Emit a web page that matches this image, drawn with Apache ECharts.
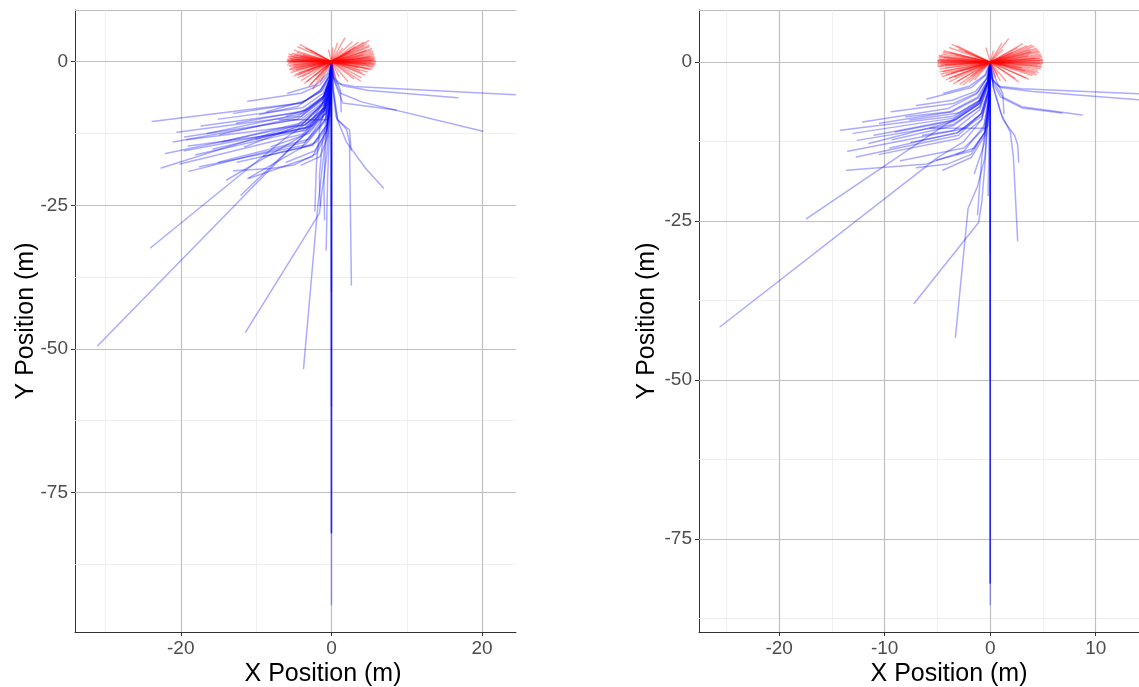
<!DOCTYPE html>
<html><head><meta charset="utf-8">
<script src="https://cdn.jsdelivr.net/npm/echarts@6/dist/echarts.min.js"></script>
<style>html,body{margin:0;padding:0;background:#fff}#c{width:1139px;height:687px}</style>
</head><body><div id="c"></div>
<script>
// ---------- axis ticks ----------
const leftXTicks = [-20, 0, 20];
const leftXMinor = [-30, -10, 10];
const rightXTicks = [-20, -10, 0, 10];
const rightXMinor = [-25, -15, -5, 5];
const yTicks = [0, -25, -50, -75];
const yMinor = [-12.5, -37.5, -62.5, -87.5];
const leftXRange = [-34.04, 24.5];
const leftYRange = [-99.3, 9.0];
const rightXRange = [-27.6, 14.1];
const rightYRange = [-89.6, 8.2];

// ---------- red (initial direction) segment end points ----------
const leftRedEnds = [
 [-5.8,0.2],[-5.8,-0.3],[-5.7,0.6],[-5.6,-0.8],[-5.5,1.0],[-5.5,-1.2],[-5.4,0.0],[-5.3,1.5],[-5.2,-1.6],[-5.0,2.0],
 [-5.0,-0.5],[-4.8,-2.2],[-4.7,0.4],[-4.5,2.6],[-4.5,-2.8],[-4.2,3.0],[-4.0,-3.3],[-3.8,1.2],[-3.6,-3.8],[-3.5,2.4],
 [-3.2,-1.5],[-3.0,-4.3],[-2.8,2.0],[-2.5,-4.8],[-2.2,-2.5],[-5.1,0.8],[-4.9,-1.0],[-4.3,-1.9],[-3.9,-2.6],[-2.0,-3.2],
 [-1.5,-3.6],[-6.0,0.0],[-5.9,0.4],[-4.6,1.6],[-4.1,0.9],[-5.7,-0.1],[-5.3,0.3],
 [-5.9,-0.6],[-5.8,0.9],[-5.6,-1.4],[-5.7,1.3],[-5.4,-1.9],[-5.5,0.5],[-5.6,0.1],[-5.2,-0.9],[-4.9,1.2],[-4.4,-2.3],
 [-4.7,-1.4],[-3.3,-3.5],[-2.8,-4.0],[-5.9,0.1],[-5.0,-2.5],
 [5.8,0.0],[5.8,0.5],[5.7,-0.4],[5.6,1.0],[5.5,-0.9],[5.5,1.5],[5.4,0.2],[5.3,2.0],[5.2,-1.4],[5.0,2.6],
 [5.0,3.7],[4.8,-1.8],[4.7,3.2],[4.5,-2.4],[4.4,2.8],[4.2,1.2],[4.0,-2.8],[3.9,-3.4],[3.6,3.4],[3.5,-1.0],
 [3.2,2.6],[3.0,-3.0],[2.8,3.5],[2.5,1.8],[2.2,-3.5],[1.8,4.2],[1.5,2.4],[0.8,3.3],[0.5,-3.0],[-0.4,2.1],
 [0.2,2.5],[5.1,-0.6],[4.9,0.7],[4.6,1.9],[3.8,-1.6],[1.0,-2.6],[5.9,0.2],[5.6,0.3],[5.2,0.9],
 [5.9,-0.2],[5.8,0.8],[5.7,-0.8],[5.7,1.3],[5.5,-1.3],[5.6,1.8],[5.4,2.3],[5.3,-0.2],[5.1,2.9],[4.9,-1.2],
 [4.6,-0.3],[4.3,3.4],[5.6,0.6],[5.8,-0.5],[4.1,-2.0]
];
const rightRedEnds = [
 [-5.0,0.1],[-5.0,-0.3],[-4.9,0.5],[-4.9,-0.7],[-4.8,0.9],[-4.8,-1.1],[-4.7,0.0],[-4.6,1.3],[-4.5,-1.5],[-4.4,1.8],
 [-4.3,-0.4],[-4.2,-2.0],[-4.1,0.4],[-3.9,2.3],[-3.9,-2.5],[-3.65,2.8],[-3.5,-3.4],[-3.3,1.1],[-3.1,-3.0],[-3.0,2.1],
 [-2.8,-1.4],[-2.6,-3.6],[-2.4,1.7],[-2.0,-3.2],[-1.8,-2.2],[-4.4,0.7],[-4.3,-0.9],[-3.7,-1.7],[-3.4,-2.4],[-1.5,-2.8],
 [-5.0,0.3],[-4.6,0.2],[-3.8,1.5],[-0.4,2.3],[-4.95,-0.1],
 [-5.0,-0.6],[-4.9,0.8],[-4.8,-1.5],[-4.9,1.1],[-4.7,-1.9],[-4.8,0.4],[-4.7,-0.4],[-4.5,1.6],[-4.6,-2.3],[-4.2,-2.8],
 [-3.9,-3.1],[-3.2,2.6],[-4.95,0.2],[-2.9,-3.5],
 [5.0,0.0],[5.0,0.4],[4.9,-0.4],[4.9,0.9],[4.8,-0.8],[4.8,1.3],[4.7,0.2],[4.6,1.8],[4.5,-1.3],[4.4,2.2],
 [4.0,2.7],[4.3,-1.7],[4.2,2.5],[4.0,-2.1],[3.8,2.0],[3.6,1.0],[3.4,-2.5],[2.7,-3.1],[3.1,2.9],[3.0,-0.9],
 [2.6,2.3],[2.4,-2.6],[1.75,3.7],[2.1,1.5],[1.5,-3.0],[1.1,3.0],[1.2,2.0],[0.95,-2.95],[0.5,-2.5],[0.3,1.8],
 [4.5,-0.5],[4.3,0.6],[3.9,1.6],[3.3,-1.4],[0.7,-2.0],[5.0,0.2],[4.7,0.6],
 [5.0,-0.2],[4.95,0.7],[4.9,-0.7],[4.85,1.1],[4.8,-1.1],[4.7,1.6],[4.6,-1.6],[4.5,2.0],[4.7,-0.2],[4.4,-2.0],
 [3.7,-2.7],[4.95,0.3],[3.5,2.6]
];

// ---------- blue trajectories ----------
const leftBlueTracks = [
 [[0,0],[0,-94.5]],
 [[0,0],[0,-82]],
 [[0,0],[0,-82]],
 [[0,0],[0,-82]],
 [[0,0],[0,-60]],
 [[0,0],[0,-40]],
 [[0,0],[0,-25]],
 [[0,0],[-0.1,-4],[-0.8,-8],[-2.5,-11.5],[-5,-14.5],[-31,-49.4]],
 [[0,0],[-0.1,-3],[-0.8,-6.5],[-2.5,-10],[-6,-13.2],[-24,-32.4]],
 [[0,0],[-0.2,-8],[-0.6,-16],[-1.2,-22],[-1.6,-26.4],[-11.4,-47.1]],
 [[0,0],[-0.3,-8],[-1,-16],[-1.8,-25],[-3.7,-53.4]],
 [[0,0],[-0.2,-10],[-0.5,-20],[-0.7,-32.8]],
 [[0,0],[-0.4,-8],[-1.2,-14],[-1.6,-20],[-1.5,-25]],
 [[0,0],[-0.3,-8],[-0.8,-15],[-1.0,-22],[-0.9,-27.5]],
 [[0,0],[-0.5,-6],[-1.5,-11],[-2.0,-18],[-2.2,-26]],
 [[0,0],[-0.2,-4],[-1,-8],[-3,-12],[-12,-23.2]],
 [[0,0],[-0.2,-4],[-1.2,-8.5],[-4,-13],[-13.9,-20.6]],
 [[0,0],[-0.2,-5],[-1.2,-10],[-4,-15],[-11.1,-20.3]],
 [[0,0],[0.1,-2.5],[0.8,-3.8],[3,-4.3],[24.4,-5.75]],
 [[0,0],[0.3,-2.8],[1.5,-4.2],[5,-5.0],[16.8,-6.26]],
 [[0,0],[0.3,-3],[1.2,-5.5],[4,-7],[20.1,-12.1]],
 [[0,0],[0.4,-3.5],[1.5,-7.2],[8.6,-8.4]],
 [[0,0],[0.6,-3],[1.2,-5],[1.3,-8.7]],
 [[0,0],[0.2,-5],[0.8,-10],[2,-11.8],[2.4,-14],[2.65,-38.9]],
 [[0,0],[0.2,-5],[0.6,-9.5],[2,-14],[4.5,-18.5],[6.9,-22]],
 [[0,0],[0.3,-5],[0.8,-10.1],[2.4,-11.9],[2.6,-15.4]],
 [[0,0],[-0.2,-2.5],[-1.2,-5],[-4,-7.2],[-23.8,-10.4]],
 [[0,0],[-0.3,-2],[-1.5,-4],[-4,-5.5],[-11.1,-6.9]],
 [[0,0],[-0.5,-2],[-2,-4],[-5.8,-5.5]],
 [[0,0],[-0.2,-3],[-1,-6],[-4,-8.8],[-17.3,-11.2]],
 [[0,0],[-0.2,-3.5],[-1,-7],[-4,-10],[-19.5,-13.1]],
 [[0,0],[-0.1,-4],[-0.8,-8],[-3.5,-11],[-19.2,-13.6]],
 [[0,0],[-0.1,-4.5],[-0.8,-9],[-3.5,-12],[-19,-14.7]],
 [[0,0],[-0.1,-4],[-0.9,-8.5],[-3.5,-12.5],[-20.1,-17.8]],
 [[0,0],[-0.2,-3.5],[-1.2,-7.5],[-4.5,-11],[-22.6,-18.5]],
 [[0,0],[-0.1,-5],[-0.8,-10],[-3.5,-14],[-18.9,-19.1]],
 [[0,0],[-0.1,-5],[-0.9,-10.5],[-3.5,-14.5],[-17.5,-18.3]],
 [[0,0],[-0.2,-4],[-1,-8],[-3.5,-11.5],[-15.7,-15.2]],
 [[0,0],[-0.1,-6],[-0.6,-12],[-2.5,-16.5],[-10.9,-20.3]],
 [[0,0],[-0.3,-2.5],[-1.5,-5],[-3.5,-6.8],[-8.6,-8.7]],
 [[0,0],[-0.2,-3],[-1.2,-6.5],[-4,-9.5],[-14.8,-12.7]],
 [[0,0],[-0.2,-3],[-1,-6],[-3.5,-8.5],[-12.6,-10.7]],
 [[0,0],[-0.2,-3],[-1.2,-6.5],[-4.5,-9.5],[-20.5,-12.3]],
 [[0,0],[-0.3,-2.5],[-1.4,-5.2],[-4,-7.2],[-13,-9]],
 [[0,0],[-0.1,-5],[-0.2,-9.5],[-0.5,-10.1],[-6.9,-10.1]],
 [[0,0],[-0.2,-7],[-0.8,-13],[-2,-16],[-5,-18],[-8,-18.6],[-13,-19]],
 [[0,0],[-0.2,-3.5],[-1,-7.5],[-4,-11],[-22,-16]],
 [[0,0],[-0.1,-4],[-0.8,-8],[-3.2,-11.5],[-19.5,-15.5]],
 [[0,0],[-0.2,-4],[-1,-8],[-3.5,-11],[-10,-13.5]],
 [[0,0],[-0.1,-5],[-0.7,-9],[-2.5,-11.2],[-7,-12.5]],
 [[0,0],[-0.1,-6],[-0.6,-11],[-2.5,-14.5],[-9,-16.5]],
 [[0,0],[-0.2,-3.5],[-1,-7],[-3.5,-10.5],[-14.5,-14]],
 [[0,0],[-0.2,-3],[-1,-6],[-3,-8.2],[-6,-9.5]],
 [[0,0],[-0.1,-7],[-0.6,-11.5],[-2,-14],[-4,-15]],
 [[0,0],[-0.1,-6],[-0.6,-11],[-2.5,-14.5],[-12.5,-17.5]],
 [[0,0],[-0.2,-3],[-1,-6.2],[-3.8,-9],[-16.5,-12.5]],
 [[0,0],[-0.1,-4],[-0.9,-8.5],[-3.8,-12],[-18,-16.2]],
 [[0,0],[-0.2,-2.8],[-1.1,-5.5],[-3.8,-8],[-15,-10]],
 [[0,0],[-0.1,-5],[-0.7,-10],[-3,-13.5],[-15,-17.5]],
 [[0,0],[-0.2,-3.2],[-1.2,-6.8],[-4.5,-10],[-21,-14]],
 [[0,0],[-0.1,-6],[-0.6,-12],[-2.2,-15.5],[-6,-17.5]],
 [[0,0],[-0.2,-3.5],[-1.3,-7.5],[-4,-11],[-11.5,-14.8]],
 [[0,0],[-0.3,-2.5],[-1.5,-5],[-4.5,-7.8],[-9.5,-9.2]],
 [[0,0],[-0.1,-4.5],[-0.8,-9],[-3,-12.5],[-8,-14.8]],
 [[0,0],[-0.1,-7],[-0.5,-13],[-1.5,-16.5],[-4,-18]]
];
const rightBlueTracks = [
 [[0,0],[0,-85.3]],
 [[0,0],[0,-81.9]],
 [[0,0],[0,-81.9]],
 [[0,0],[0,-81.9]],
 [[0,0],[0,-50]],
 [[0,0],[0,-30]],
 [[0,0],[-0.1,-4],[-0.8,-9],[-2.5,-12.5],[-5,-15],[-25.6,-41.6]],
 [[0,0],[-0.2,-3],[-1.2,-6.5],[-3.5,-9],[-17.4,-24.6]],
 [[0,0],[-0.2,-8],[-0.5,-16],[-0.8,-22],[-1.1,-25.2],[-7.2,-37.9]],
 [[0,0],[-0.2,-8],[-0.5,-15],[-1.2,-19.5],[-2.1,-23],[-3.3,-43.3]],
 [[0,0],[-0.3,-8],[-0.8,-15],[-1.2,-24]],
 [[0,0],[-0.1,-10],[-0.2,-21]],
 [[0,0],[0.3,-4],[1,-8],[1.9,-11],[2.2,-15],[2.6,-28.1]],
 [[0,0],[0.3,-4],[1.2,-9],[2.3,-11.5],[2.6,-13],[2.7,-15.7]],
 [[0,0],[0.1,-2.5],[0.8,-3.8],[3,-4.2],[14.05,-4.95]],
 [[0,0],[0.2,-2.8],[1,-4.0],[4,-4.6],[14.05,-5.9]],
 [[0,0],[0.3,-3],[1.2,-5.5],[3,-7],[8.7,-8.3]],
 [[0,0],[0.3,-3.5],[1.0,-5.5],[3,-7.2],[6.8,-8.0]],
 [[0,0],[0.6,-3],[1.2,-5],[1.3,-8.1]],
 [[0,0],[-0.2,-3],[-1,-6],[-3.5,-8.5],[-14.2,-10.7]],
 [[0,0],[-0.2,-3.5],[-1,-7],[-3.5,-9.8],[-12.6,-12.3]],
 [[0,0],[-0.3,-2.5],[-1.3,-5],[-4,-7.3],[-12.1,-9.4]],
 [[0,0],[-0.3,-2.5],[-1.2,-4.8],[-3.5,-6.5],[-9.4,-7.8]],
 [[0,0],[-0.1,-4],[-0.8,-8],[-3,-11.5],[-12.7,-14.9]],
 [[0,0],[-0.1,-5],[-0.6,-10],[-2.5,-14],[-6,-16],[-13.6,-17]],
 [[0,0],[-0.1,-6],[-0.5,-11],[-1.8,-14.5],[-4,-16],[-7,-16.6]],
 [[0,0],[-0.2,-3.5],[-1,-7],[-3.5,-10],[-9.3,-12.2]],
 [[0,0],[-0.2,-3],[-1,-6.5],[-3.5,-9.2],[-9,-11]],
 [[0,0],[-0.4,-2],[-1.8,-4],[-6,-5.8]],
 [[0,0],[-0.5,-2],[-2,-3.8],[-4.4,-4.9]],
 [[0,0],[-0.1,-6],[-0.5,-11],[-1.5,-13.5],[-3.2,-14.5]],
 [[0,0],[-0.1,-5],[-0.2,-10],[-0.5,-10.4],[-5.7,-10.4]],
 [[0,0],[-0.2,-3],[-1,-6],[-3,-8],[-7.6,-9.1]],
 [[0,0],[-0.1,-4.5],[-0.8,-8.5],[-2.5,-10.5],[-6.4,-11.5]],
 [[0,0],[-0.1,-6],[-0.5,-11],[-1.8,-14],[-5.1,-15.4]],
 [[0,0],[-0.2,-2.8],[-1.1,-5.6],[-3.6,-7.8],[-10.5,-9.6]],
 [[0,0],[-0.2,-3.2],[-1,-6.5],[-3.2,-9],[-11,-11.5]],
 [[0,0],[-0.1,-4],[-0.8,-8],[-3,-11],[-9.5,-13.5]],
 [[0,0],[-0.1,-8],[-0.6,-13],[-1.5,-17.5]],
 [[0,0],[-0.2,-3],[-1,-6.2],[-3.5,-8.8],[-13,-11.2]],
 [[0,0],[-0.1,-4.5],[-0.8,-9],[-3,-12],[-10.5,-14.5]],
 [[0,0],[-0.2,-2.8],[-1.2,-5.5],[-3.8,-7.8],[-8,-8.6]],
 [[0,0],[-0.1,-5.5],[-0.6,-10.5],[-2.5,-13.5],[-8.5,-15.5]],
 [[0,0],[-0.2,-3.2],[-1.1,-6.6],[-3.6,-9.4],[-11.5,-12.8]],
 [[0,0],[-0.1,-4],[-0.9,-8.2],[-3.2,-11.2],[-7.5,-12.6]],
 [[0,0],[-0.3,-2.5],[-1.4,-4.6],[-3.6,-6],[-7,-6.8]],
 [[0,0],[-0.1,-6],[-0.5,-11.5],[-1.8,-15],[-4.5,-17]],
 [[0,0],[-0.2,-3.8],[-1,-7.5],[-3.5,-10.8],[-13.5,-14]]
];

// ---------- build ----------
const FONT = "'Liberation Sans', Arial, sans-serif";
function gridSegs(xs, ys, xr, yr) {
  const out = [];
  xs.forEach(v => out.push({coords: [[v, yr[0]], [v, yr[1]]]}));
  ys.forEach(v => out.push({coords: [[xr[0], v], [xr[1], v]]}));
  return out;
}
function redSegs(ends) { return ends.map(e => ({coords: [[0, 0], e]})); }
function blueSegs(tracks) { return tracks.map(t => ({coords: t})); }

function panelSeries(xi, yi, xt, xm, xr, yr, blue, red) {
  const base = {type: 'lines', coordinateSystem: 'cartesian2d', xAxisIndex: xi, yAxisIndex: yi,
                silent: true, animation: false, symbol: 'none'};
  return [
    Object.assign({}, base, {z: 1, data: gridSegs(xm, yMinor, xr, yr),
      lineStyle: {color: '#ececec', width: 0.8, opacity: 1}}),
    Object.assign({}, base, {z: 2, data: gridSegs(xt, yTicks, xr, yr),
      lineStyle: {color: '#c0c0c0', width: 1.2, opacity: 1}}),
    Object.assign({}, base, {z: 3, polyline: true, data: blueSegs(blue),
      lineStyle: {color: '#0000ff', width: 1.5, opacity: 0.33, join: 'round', cap: 'round'}}),
    Object.assign({}, base, {z: 4, data: redSegs(red),
      lineStyle: {color: '#ff0000', width: 1.4, opacity: 0.38}})
  ];
}
function bottomX(gi, xr, ticks) {
  return {type: 'value', gridIndex: gi, position: 'bottom', min: xr[0], max: xr[1],
    axisLine: {onZero: false, lineStyle: {color: '#333', width: 1}},
    axisTick: {show: true, length: 4, customValues: ticks, lineStyle: {color: '#333'}},
    axisLabel: {customValues: ticks, margin: 7, color: '#4d4d4d', fontSize: 19, fontFamily: FONT},
    splitLine: {show: false}};
}
function topX(gi, xr) {
  return {type: 'value', gridIndex: gi, position: 'top', min: xr[0], max: xr[1],
    axisLine: {onZero: false, lineStyle: {color: '#bdbdbd', width: 1}},
    axisTick: {show: false}, axisLabel: {show: false}, splitLine: {show: false}};
}
function leftY(gi, yr) {
  return {type: 'value', gridIndex: gi, min: yr[0], max: yr[1],
    axisLine: {show: true, onZero: false, lineStyle: {color: '#333', width: 1}},
    axisTick: {show: true, length: 4, customValues: yTicks, lineStyle: {color: '#333'}},
    axisLabel: {customValues: yTicks, margin: 7, color: '#4d4d4d', fontSize: 19, fontFamily: FONT},
    splitLine: {show: false}};
}
function txt(x, y, s, rot) {
  return {type: 'text', x: x, y: y, rotation: rot || 0, silent: true,
    style: {text: s, fill: '#000', font: '25px ' + FONT, align: 'center', verticalAlign: 'middle',
            textAlign: 'center', textVerticalAlign: 'middle'}};
}

const chart = echarts.init(document.getElementById('c'));
chart.setOption({
  backgroundColor: '#fff',
  animation: false,
  grid: [
    {left: 75, top: 10, width: 441, height: 622},
    {left: 699, top: 10, width: 440, height: 622}
  ],
  xAxis: [bottomX(0, leftXRange, leftXTicks), topX(0, leftXRange),
          bottomX(1, rightXRange, rightXTicks), topX(1, rightXRange)],
  yAxis: [leftY(0, leftYRange), leftY(1, rightYRange)],
  series: [].concat(
    panelSeries(0, 0, leftXTicks, leftXMinor, leftXRange, leftYRange, leftBlueTracks, leftRedEnds),
    panelSeries(2, 1, rightXTicks, rightXMinor, rightXRange, rightYRange, rightBlueTracks, rightRedEnds)
  ),
  graphic: [
    txt(323, 674, 'X Position (m)'),
    txt(949, 674, 'X Position (m)'),
    txt(26, 321, 'Y Position (m)', Math.PI / 2),
    txt(647, 321, 'Y Position (m)', Math.PI / 2)
  ]
});
</script></body></html>
